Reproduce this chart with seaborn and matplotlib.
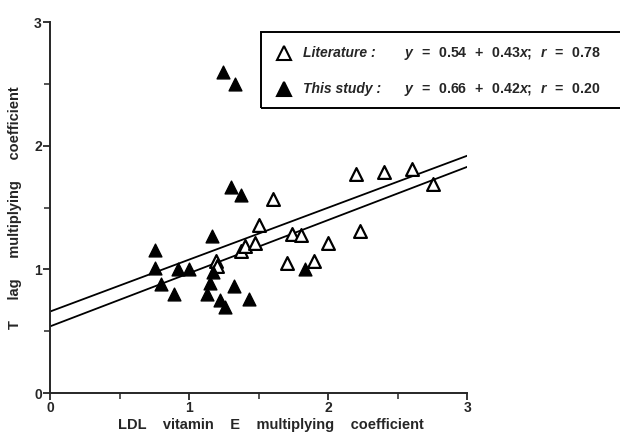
import numpy as np
import pandas as pd
import matplotlib
matplotlib.use("Agg")
import matplotlib.pyplot as plt
import seaborn as sns
from matplotlib.patches import Rectangle
from matplotlib.lines import Line2D
from matplotlib.ticker import MultipleLocator

# literature values (open triangles)
lit_x = [1.19, 1.20, 1.50, 1.60, 1.37, 1.40, 1.47, 1.70, 1.74, 1.80,
         1.90, 2.00, 2.20, 2.23, 2.40, 2.60, 2.75]
lit_y = [1.07, 1.03, 1.36, 1.57, 1.15, 1.19, 1.21, 1.05, 1.29, 1.28,
         1.07, 1.21, 1.77, 1.31, 1.79, 1.81, 1.69]

# this study (filled triangles)
study_x = [1.24, 1.33, 1.30, 1.37, 1.16, 0.75, 0.75, 0.92, 1.00, 0.80,
           0.89, 1.15, 1.13, 1.17, 1.22, 1.26, 1.32, 1.43, 1.83]
study_y = [2.60, 2.50, 1.67, 1.60, 1.27, 1.16, 1.01, 1.00, 1.00, 0.88,
           0.80, 0.89, 0.80, 0.98, 0.75, 0.70, 0.87, 0.76, 1.00]

# regression lines from the legend (intercept, slope, r)
lit_fit = (0.54, 0.43, 0.78)
study_fit = (0.66, 0.42, 0.20)

sns.set_style("ticks")
plt.rcParams["font.family"] = ["Liberation Sans", "DejaVu Sans"]
plt.rcParams["font.weight"] = "bold"
plt.rcParams["mathtext.fontset"] = "custom"
plt.rcParams["mathtext.rm"] = "Liberation Sans:bold"
plt.rcParams["mathtext.it"] = "Liberation Sans:italic:bold"
plt.rcParams["mathtext.bf"] = "Liberation Sans:bold"

fig = plt.figure(figsize=(6.2, 4.32), dpi=100)
ax = fig.add_axes([0.081, 0.09, 0.673, 0.859])

lit = pd.DataFrame({"x": lit_x, "y": lit_y})
study = pd.DataFrame({"x": study_x, "y": study_y})

xs = np.array([0, 3])
for a, b, _ in (lit_fit, study_fit):
    ax.plot(xs, a + b * xs, color="black", lw=1.3, zorder=1)

sns.scatterplot(data=lit, x="x", y="y", marker="^", s=85, facecolor="white",
                edgecolor="black", linewidth=1.6, ax=ax, zorder=3)
sns.scatterplot(data=study, x="x", y="y", marker="^", s=85, color="black",
                edgecolor="black", linewidth=1.0, ax=ax, zorder=3)

ax.set_xlim(0, 3)
ax.set_ylim(0, 3)
ax.xaxis.set_major_locator(MultipleLocator(1))
ax.yaxis.set_major_locator(MultipleLocator(1))
ax.xaxis.set_minor_locator(MultipleLocator(0.5))
ax.yaxis.set_minor_locator(MultipleLocator(0.5))
ax.tick_params(which="major", length=5, width=1.3, labelsize=10, pad=1)
ax.tick_params(which="minor", length=4, width=1.1)
for lab in ax.get_xticklabels() + ax.get_yticklabels():
    lab.set_fontweight("bold")
for side in ("top", "right"):
    ax.spines[side].set_visible(False)
for side in ("left", "bottom"):
    ax.spines[side].set_linewidth(1.4)

ax.set_xlabel("LDL    vitamin    E    multiplying    coefficient",
              fontsize=10.5, fontweight="bold")
ax.set_ylabel("T     lag     multiplying     coefficient",
              fontsize=10.5, fontweight="bold", labelpad=9)
ax.xaxis.set_label_coords(0.53, -0.068)

# legend box
fig.patches.append(Rectangle((261 / 620, 1 - 108 / 432), 0.6, 76 / 432,
                             transform=fig.transFigure, fill=False,
                             edgecolor="black", lw=1.4))
rows = [("Literature :", "white", lit_fit, 53),
        ("This study :", "black", study_fit, 89)]
for name, fc, (a, b, r), ypx in rows:
    yf = 1 - ypx / 432
    fig.add_artist(Line2D([284 / 620], [yf], marker="^", markersize=10,
                          markerfacecolor=fc, markeredgecolor="black",
                          markeredgewidth=1.5, transform=fig.transFigure))
    fig.text(303 / 620, yf, name, fontsize=10, fontweight="bold",
             fontstyle="italic", va="center", ha="left")
    eq = (r"$y\ \,=\ \,%.2f\ \,+\ \,%.2fx;\ \,r\ \,=\ \,%.2f$" % (a, b, r))
    fig.text(404 / 620, yf, eq, fontsize=10.2, va="center", ha="left")

fig.savefig("out.png", dpi=100)
